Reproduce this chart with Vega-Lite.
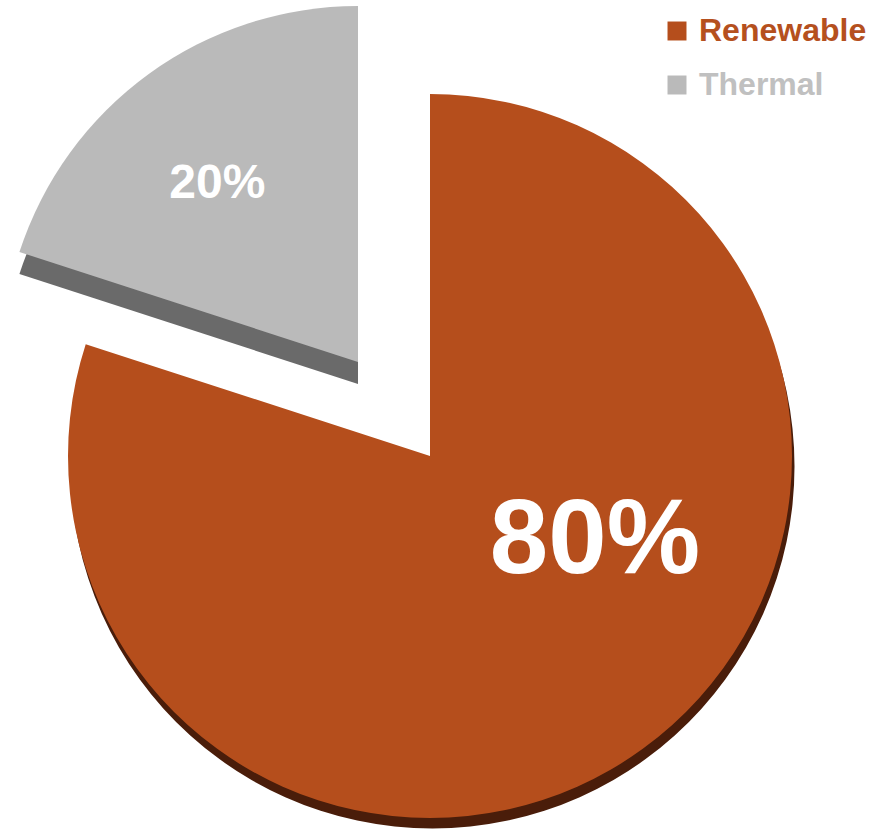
{
  "$schema": "https://vega.github.io/schema/vega-lite/v6.json",
  "width": 871,
  "height": 831,
  "padding": 0,
  "autosize": {"type": "none"},
  "background": "white",
  "config": {"view": {"stroke": null}, "font": "Liberation Sans"},
  "data": {"values": [
    {"category": "Renewable", "value": 80, "label": "80%"},
    {"category": "Thermal", "value": 20, "label": "20%"}
  ]},
  "transform": [
    {"stack": "value", "groupby": [], "sort": [{"field": "category", "order": "ascending"}], "as": ["v0", "v1"]}
  ],
  "layer": [
    {
      "transform": [{"filter": "datum.category === 'Renewable'"}],
      "mark": {"type": "arc", "radius": 362, "color": "#4A1D0A", "xOffset": -3, "yOffset": 51},
      "encoding": {
        "theta": {"field": "v0", "type": "quantitative", "scale": {"domain": [0, 100]}},
        "theta2": {"field": "v1"}
      }
    },
    {
      "transform": [{"filter": "datum.category === 'Thermal'"}],
      "mark": {"type": "arc", "radius": 356, "color": "#6A6A6A", "xOffset": -77.5, "yOffset": -31.5},
      "encoding": {
        "theta": {"field": "v0", "type": "quantitative", "scale": {"domain": [0, 100]}},
        "theta2": {"field": "v1"}
      }
    },
    {
      "transform": [{"filter": "datum.category === 'Renewable'"}],
      "mark": {"type": "arc", "radius": 362, "xOffset": -5.5, "yOffset": 40.5},
      "encoding": {
        "theta": {"field": "v0", "type": "quantitative", "scale": {"domain": [0, 100]}},
        "theta2": {"field": "v1"},
        "color": {
          "field": "category", "type": "nominal",
          "scale": {"domain": ["Renewable", "Thermal"], "range": ["#B54E1C", "#BABABA"]},
          "legend": {
            "title": null, "orient": "none", "legendX": 661, "legendY": 15, "padding": 0,
            "symbolType": "square", "symbolSize": 360, "symbolStrokeWidth": 0,
            "labelFontSize": 32, "labelFontWeight": "bold", "labelFont": "Liberation Sans",
            "labelOffset": 6, "rowPadding": 22, "labelLimit": 400,
            "encode": {"labels": {"update": {"fill": {"signal": "datum.value === 'Renewable' ? '#B5501E' : '#C0C0C0'"}}}}
          }
        }
      }
    },
    {
      "transform": [{"filter": "datum.category === 'Thermal'"}],
      "mark": {"type": "arc", "radius": 356, "xOffset": -77.5, "yOffset": -53.5},
      "encoding": {
        "theta": {"field": "v0", "type": "quantitative", "scale": {"domain": [0, 100]}},
        "theta2": {"field": "v1"},
        "color": {"field": "category", "type": "nominal"}
      }
    },
    {
      "mark": {"type": "text", "radius": 229, "fontSize": 48, "fontWeight": "bold", "color": "white", "font": "Liberation Sans", "xOffset": -77.5, "yOffset": -53.5, "dx": -6, "dy": 7, "align": "center", "baseline": "middle"},
      "encoding": {
        "theta": {"field": "value", "type": "quantitative", "stack": true, "scale": {"domain": [0, 100]}},
        "order": {"field": "v0", "type": "quantitative", "sort": "ascending"},
        "text": {"condition": {"test": "datum.category === 'Thermal'", "field": "label"}, "value": ""}
      }
    },
    {
      "mark": {"type": "text", "radius": 187, "fontSize": 105, "fontWeight": "bold", "color": "white", "font": "Liberation Sans", "xOffset": -5.5, "yOffset": 40.5, "dx": 55, "dy": -66, "align": "center", "baseline": "middle"},
      "encoding": {
        "theta": {"field": "value", "type": "quantitative", "stack": true, "scale": {"domain": [0, 100]}},
        "order": {"field": "v0", "type": "quantitative", "sort": "ascending"},
        "text": {"condition": {"test": "datum.category === 'Renewable'", "field": "label"}, "value": ""}
      }
    }
  ]
}
